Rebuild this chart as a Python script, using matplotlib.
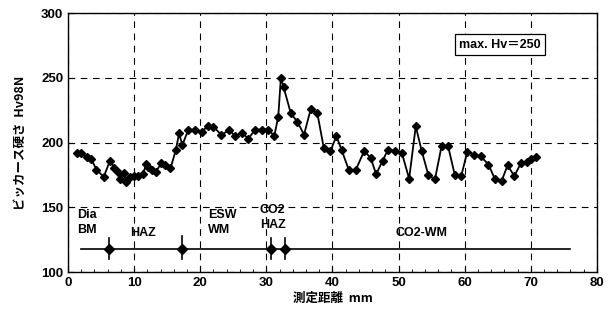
import matplotlib
matplotlib.use("Agg")
import matplotlib.pyplot as plt
from matplotlib.ticker import MultipleLocator

plt.rcParams['font.family'] = ['Liberation Sans', 'Noto Sans CJK JP', 'DejaVu Sans']

dist = [1.3, 2.0, 2.8, 3.5, 4.3, 5.4, 6.35, 7.0, 7.5, 7.9, 8.4, 8.8, 9.4, 10.0, 10.6,
        11.4, 11.8, 12.1, 12.7, 13.3, 14.1, 14.7, 15.5, 16.3, 16.8, 17.3, 18.2, 19.2,
        20.2, 21.2, 22.0, 23.2, 24.4, 25.3, 26.3, 27.3, 28.3, 29.3, 30.3, 31.2, 31.8,
        32.2, 32.6, 33.7, 34.7, 35.7, 36.7, 37.7, 38.7, 39.7, 40.6, 41.4, 42.5, 43.5,
        44.8, 45.8, 46.6, 47.6, 48.4, 49.5, 50.5, 51.6, 52.6, 53.5, 54.5, 55.5, 56.5,
        57.5, 58.5, 59.5, 60.4, 61.4, 62.4, 63.6, 64.6, 65.6, 66.5, 67.5, 68.5, 69.4,
        70.0, 70.8]
hv = [192, 192, 189, 187.5, 179, 173.5, 186, 180.5, 177, 171.5, 176.5, 169.5, 173.5,
      174.5, 174.5, 176, 183.5, 181, 179, 177.5, 184, 182.5, 180, 194, 207, 198, 210,
      210, 208, 213, 212, 206, 209.5, 205, 207.5, 203, 210, 210, 210, 205, 220, 250,
      243, 222.5, 216, 206, 225.5, 223, 195.5, 193.5, 205, 194, 178.5, 178.5, 193.5,
      188, 175.5, 186, 194.5, 193.5, 192, 172, 212.5, 193.5, 175, 171.5, 197, 197,
      175, 174.5, 193, 190.5, 189.5, 183, 171.5, 170.5, 182.5, 174, 184, 185, 187,
      188.5]

zone_pos = [6.2, 17.2, 30.7, 32.8]
zone_line = [2.0, 76.0]
zone_y = 117.5
zone_labels = ["Dia\nBM", "HAZ", "ESW\nWM", "CO2\nHAZ", "CO2-WM"]
zone_label_x = [1.4, 9.4, 21.2, 29.0, 49.5]
zone_label_y = [138, 130.5, 138, 142, 130.5]

fig = plt.figure(figsize=(6.1, 3.25), dpi=100)
ax = fig.add_axes([0.1115, 0.163, 0.867, 0.797])

ax.plot(dist, hv, color='black', lw=1.3, marker='D', ms=4.2, mfc='black', mec='black')

ax.plot(zone_line, [zone_y, zone_y], color='black', lw=1.2)
for i, zp in enumerate(zone_pos):
    top = 128 if i == 1 else 126
    ax.plot([zp, zp], [110, top], color='black', lw=1.2)
    ax.plot([zp], [zone_y], marker='D', ms=5, color='black')

for lab, lx, ly in zip(zone_labels, zone_label_x, zone_label_y):
    ax.text(lx, ly, lab, fontsize=9, fontweight='bold', ha='left', va='center',
            linespacing=1.3)

ax.text(65.3, 275.5, "max. Hv＝250", fontsize=9, fontweight='bold', ha='center', va='center',
        family=['Liberation Sans', 'Noto Sans CJK JP'],
        bbox=dict(boxstyle='square,pad=0.35', fc='white', ec='black', lw=0.9))

ax.set_xlim(0, 80)
ax.set_ylim(100, 300)
ax.xaxis.set_major_locator(MultipleLocator(10))
ax.yaxis.set_major_locator(MultipleLocator(50))
ax.xaxis.set_minor_locator(MultipleLocator(2))
ax.grid(True, which='major', color='black', ls=(0, (6, 5)), lw=0.8)
ax.tick_params(direction='in', length=4, width=0.8, labelsize=9.5)
ax.tick_params(which='minor', direction='in', length=2, width=0.6)
for lab in ax.get_xticklabels() + ax.get_yticklabels():
    lab.set_fontweight('bold')
for s in ax.spines.values():
    s.set_linewidth(1.0)

ax.set_xlabel("測定距離  mm", fontsize=9, fontweight='bold',
              family=['Noto Sans CJK JP', 'DejaVu Sans'], labelpad=2)
ax.set_ylabel("ビッカース硬さ  Hv98N", fontsize=9, fontweight='bold',
              family=['Noto Sans CJK JP', 'DejaVu Sans'], labelpad=10)

fig.savefig("out.png", dpi=100)
